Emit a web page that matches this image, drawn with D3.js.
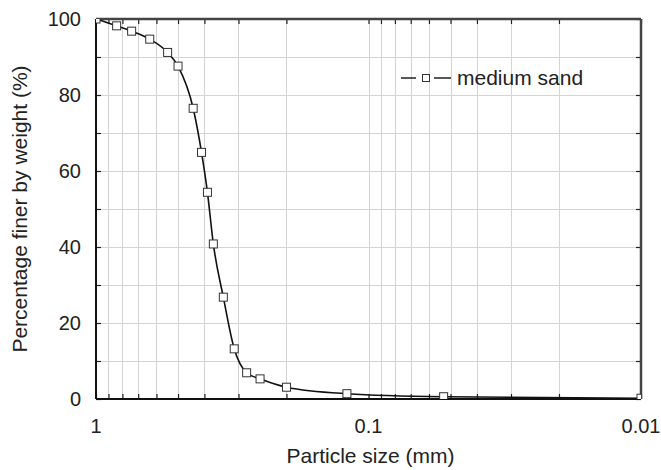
<!DOCTYPE html>
<html lang="en">
<head>
<meta charset="UTF-8">
<title>Particle size distribution</title>
<style>
    body { margin: 0; background: #fff; }
    svg text { font-family: "Liberation Sans", Arial, sans-serif; fill: #222; }
</style>
</head>
<body>
<script src="https://cdnjs.cloudflare.com/ajax/libs/d3/7.8.2/d3.min.js"></script>
<script>
    // grain size (mm) and percent finer
    const sizes   = [1.0, 0.84, 0.74, 0.635, 0.546, 0.50, 0.44, 0.41, 0.39, 0.371, 0.341, 0.311, 0.280, 0.250, 0.20, 0.12, 0.053, 0.01];
    const finer   = [100, 98.2, 96.8, 94.7, 91.2, 87.6, 76.5, 64.9, 54.4, 40.8, 26.8, 13.2, 6.9, 5.3, 3.1, 1.4, 0.6, 0.2];
    const seriesName = "medium sand";
    const xTickLabels = [1, 0.1, 0.01];
    const yTickLabels = [0, 20, 40, 60, 80, 100];
    const yMinor = d3.range(0, 101, 10);

    const W = 661, H = 470;
    const m = {left: 96, right: 641, top: 19, bottom: 399};

    const svg = d3.select("body").append("svg")
        .attr("width", W)
        .attr("height", H);

    const x = d3.scaleLog().domain([1, 0.01]).range([m.left, m.right]);
    const y = d3.scaleLinear().domain([0, 100]).range([m.bottom, m.top]);

    const data = sizes.map((s, i) => ({s: s, p: finer[i]}));

    svg.append("clipPath").attr("id", "clip")
        .append("rect")
        .attr("x", m.left).attr("y", m.top)
        .attr("width", m.right - m.left).attr("height", m.bottom - m.top);

    // grid
    const grid = svg.append("g").attr("stroke", "#d4d4d4").attr("stroke-width", 1);
    grid.selectAll(".vg").data(x.ticks()).enter().append("line")
        .attr("x1", d => Math.round(x(d)) + 0.5).attr("x2", d => Math.round(x(d)) + 0.5)
        .attr("y1", m.top).attr("y2", m.bottom);
    grid.selectAll(".hg").data(yMinor).enter().append("line")
        .attr("x1", m.left).attr("x2", m.right)
        .attr("y1", d => Math.round(y(d)) + 0.5).attr("y2", d => Math.round(y(d)) + 0.5);

    // axes, ticks pointing inward, labels drawn separately
    const xAxisB = d3.axisTop(x).tickValues(x.ticks()).tickSize(5).tickFormat("");
    const xAxisT = d3.axisBottom(x).tickValues(x.ticks()).tickSize(5).tickFormat("");
    const yAxisL = d3.axisRight(y).tickValues(yMinor).tickSize(5).tickFormat("");
    const yAxisR = d3.axisLeft(y).tickValues(yMinor).tickSize(5).tickFormat("");

    svg.append("g").attr("transform", `translate(0,${m.bottom})`).call(xAxisB);
    svg.append("g").attr("transform", `translate(0,${m.top})`).call(xAxisT);
    svg.append("g").attr("transform", `translate(${m.left},0)`).call(yAxisL);
    svg.append("g").attr("transform", `translate(${m.right},0)`).call(yAxisR);
    svg.selectAll(".domain").remove();
    svg.selectAll(".tick line").attr("stroke", "#222").attr("stroke-width", 1.2);

    // frame
    svg.append("line").attr("x1", m.left).attr("x2", m.right).attr("y1", m.top).attr("y2", m.top)
        .attr("stroke", "#444").attr("stroke-width", 2.5);
    svg.append("line").attr("x1", m.right).attr("x2", m.right).attr("y1", m.top).attr("y2", m.bottom)
        .attr("stroke", "#444").attr("stroke-width", 2.5);
    svg.append("line").attr("x1", m.left).attr("x2", m.right).attr("y1", m.bottom).attr("y2", m.bottom)
        .attr("stroke", "#111").attr("stroke-width", 2);
    svg.append("line").attr("x1", m.left).attr("x2", m.left).attr("y1", m.top).attr("y2", m.bottom)
        .attr("stroke", "#111").attr("stroke-width", 2);

    // tick labels
    svg.selectAll(".xl").data(xTickLabels).enter().append("text")
        .attr("x", d => x(d)).attr("y", 433)
        .attr("text-anchor", "middle").attr("font-size", 20)
        .text(d => d);
    svg.selectAll(".yl").data(yTickLabels).enter().append("text")
        .attr("x", 81).attr("y", d => y(d) + 7)
        .attr("text-anchor", "end").attr("font-size", 20)
        .text(d => d);

    // axis titles
    svg.append("text").attr("x", (m.left + m.right) / 2 + 2).attr("y", 463)
        .attr("text-anchor", "middle").attr("font-size", 21)
        .text("Particle size (mm)");
    svg.append("text")
        .attr("transform", `translate(27,${(m.top + m.bottom) / 2}) rotate(-90)`)
        .attr("text-anchor", "middle").attr("font-size", 21)
        .text("Percentage finer by weight (%)");

    // curve + markers
    const plot = svg.append("g").attr("clip-path", "url(#clip)");
    const line = d3.line().x(d => x(d.s)).y(d => y(d.p)).curve(d3.curveMonotoneX);
    plot.append("path").datum(data)
        .attr("d", line).attr("fill", "none")
        .attr("stroke", "#111").attr("stroke-width", 1.6);
    plot.selectAll(".mk").data(data).enter().append("rect")
        .attr("x", d => x(d.s) - 4).attr("y", d => y(d.p) - 4)
        .attr("width", 8).attr("height", 8)
        .attr("fill", "#fff").attr("stroke", "#333").attr("stroke-width", 1);

    // legend
    const lg = svg.append("g");
    lg.append("line").attr("x1", 401).attr("x2", 416).attr("y1", 78).attr("y2", 78)
        .attr("stroke", "#111").attr("stroke-width", 1.4);
    lg.append("line").attr("x1", 434).attr("x2", 451).attr("y1", 78).attr("y2", 78)
        .attr("stroke", "#111").attr("stroke-width", 1.4);
    lg.append("rect").attr("x", 422.5).attr("y", 74.5).attr("width", 7).attr("height", 7)
        .attr("fill", "#fff").attr("stroke", "#333").attr("stroke-width", 1);
    lg.append("text").attr("x", 457).attr("y", 85).attr("font-size", 21).text(seriesName);
</script>
</body>
</html>
